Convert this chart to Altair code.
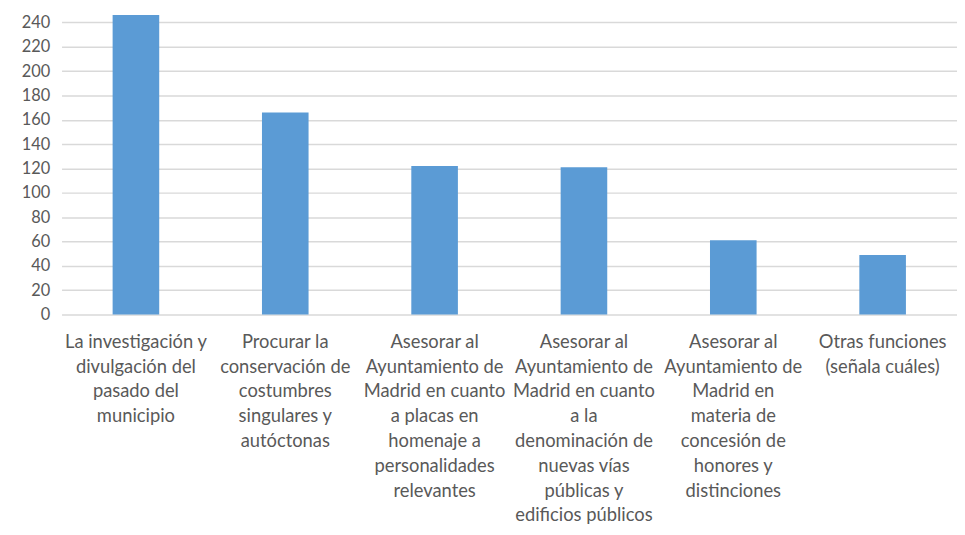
import altair as alt
import pandas as pd

categories = [
    "La investigación y|divulgación del|pasado del|municipio",
    "Procurar la|conservación de|costumbres|singulares y|autóctonas",
    "Asesorar al|Ayuntamiento de|Madrid en cuanto|a placas en|homenaje a|personalidades|relevantes",
    "Asesorar al|Ayuntamiento de|Madrid en cuanto|a la|denominación de|nuevas vías|públicas y|edificios públicos",
    "Asesorar al|Ayuntamiento de|Madrid en|materia de|concesión de|honores y|distinciones",
    "Otras funciones|(señala cuáles)",
]
values = [246, 166, 122, 121, 61, 49]
y_ticks = list(range(0, 241, 20))

df = pd.DataFrame({"cat": categories, "val": values})

FONT = "Lato"
TXT = "#595959"

chart = alt.Chart(df).mark_bar(color="#5B9BD5").encode(
    x=alt.X(
        "cat:N",
        sort=categories,
        title=None,
        scale=alt.Scale(paddingInner=0.688, paddingOuter=0.342),
        axis=alt.Axis(
            labelExpr="split(datum.label, '|')",
            labelAngle=0,
            labelAlign="center",
            labelBaseline="top",
            labelFontSize=18.5,
            labelLineHeight=25,
            labelPadding=18,
            labelColor=TXT,
            labelFont=FONT,
            labelLimit=0,
            labelOverlap=False,
            ticks=False,
            domain=False,
            grid=False,
        ),
    ),
    y=alt.Y(
        "val:Q",
        title=None,
        scale=alt.Scale(domain=[0, 250], nice=False),
        axis=alt.Axis(
            values=y_ticks,
            labelFontSize=16.5,
            labelColor=TXT,
            labelFont=FONT,
            labelPadding=12,
            ticks=False,
            domain=False,
            grid=True,
            gridColor="#D9D9D9",
            gridWidth=1.5,
        ),
    ),
).properties(
    width=903,
    height=307,
    autosize=alt.AutoSizeParams(type="none"),
    padding={"left": 54, "top": 0, "right": 0, "bottom": 212},
).configure_view(stroke=None)

chart.save("out.html", embed_options={"renderer": "svg", "actions": False})
